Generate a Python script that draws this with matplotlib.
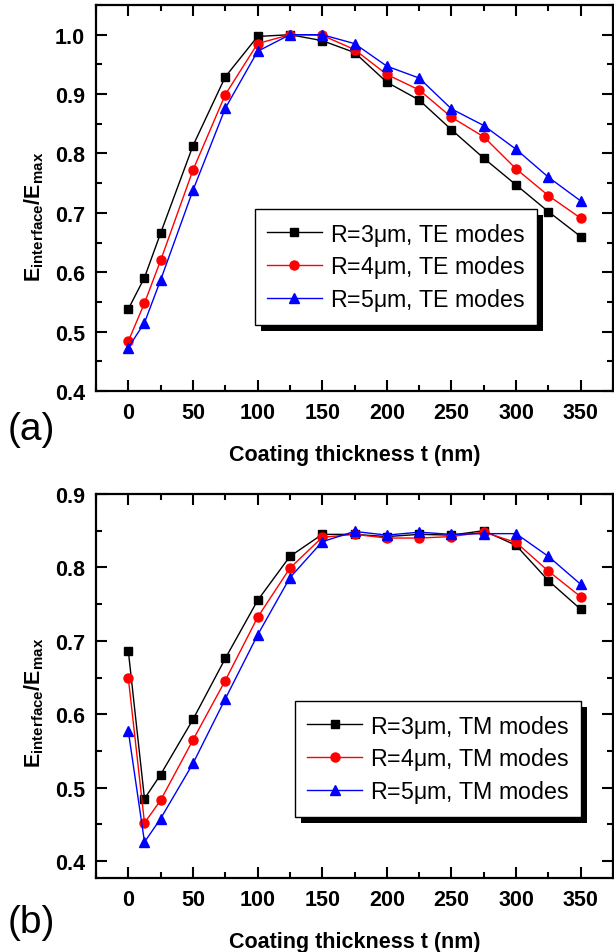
import numpy as np
import matplotlib
matplotlib.use('Agg')
import matplotlib.pyplot as plt
from matplotlib.patches import Rectangle
from matplotlib.ticker import MultipleLocator

plt.rcParams['font.family'] = ['Liberation Sans', 'DejaVu Sans']
plt.rcParams['mathtext.fontset'] = 'custom'
plt.rcParams['mathtext.rm'] = 'Liberation Sans'
plt.rcParams['mathtext.bf'] = 'Liberation Sans:bold'

# coating thickness (nm)
thickness = [0, 12.5, 25, 50, 75, 100, 125, 150, 175, 200, 225, 250, 275, 300, 325, 350]

# TE modes
te_r3 = [0.538, 0.591, 0.666, 0.813, 0.929, 0.997, 1.0, 0.990, 0.970, 0.920,
         0.890, 0.840, 0.792, 0.747, 0.702, 0.660]
te_r4 = [0.484, 0.548, 0.620, 0.772, 0.899, 0.985, 1.0, 0.999, 0.975, 0.933,
         0.907, 0.861, 0.828, 0.774, 0.729, 0.691]
te_r5 = [0.473, 0.515, 0.587, 0.738, 0.876, 0.972, 1.0, 1.0, 0.985, 0.947,
         0.927, 0.875, 0.847, 0.807, 0.760, 0.720]

# TM modes
tm_r3 = [0.686, 0.485, 0.518, 0.593, 0.676, 0.755, 0.815, 0.845, 0.845, 0.842,
         0.845, 0.844, 0.850, 0.830, 0.782, 0.743]
tm_r4 = [0.649, 0.452, 0.483, 0.565, 0.646, 0.732, 0.799, 0.841, 0.845, 0.840,
         0.840, 0.842, 0.848, 0.834, 0.795, 0.760]
tm_r5 = [0.577, 0.426, 0.458, 0.533, 0.621, 0.708, 0.786, 0.835, 0.849, 0.844,
         0.848, 0.845, 0.846, 0.846, 0.815, 0.777]

radii = ['3', '4', '5']
styles = [('k', 's', 6), ('#ff0000', 'o', 6.5), ('#0000ff', '^', 7)]

fig = plt.figure(figsize=(6.14, 9.53), dpi=100)
ax1 = fig.add_axes([0.1564, 0.5887, 0.842, 0.405])
ax2 = fig.add_axes([0.1564, 0.0776, 0.842, 0.403])


def setup(ax, ylim, yticks, ylab_y, xlab_y):
    ax.set_xlim(-25, 375)
    ax.set_ylim(*ylim)
    ax.set_yticks(yticks)
    ax.set_yticklabels(['%.1f' % v for v in yticks])
    ax.set_xticks(np.arange(0, 351, 50))
    ax.xaxis.set_minor_locator(MultipleLocator(25))
    ax.yaxis.set_minor_locator(MultipleLocator(0.05))
    ax.tick_params(which='both', direction='in', top=True, right=True, width=1.5)
    ax.tick_params(which='major', length=8, labelsize=15.5, pad=8)
    ax.tick_params(which='minor', length=4)
    for lab in ax.get_xticklabels() + ax.get_yticklabels():
        lab.set_fontweight('bold')
    for sp in ax.spines.values():
        sp.set_linewidth(1.6)
    ax.set_xlabel('Coating thickness t (nm)', fontsize=15.5, fontweight='bold')
    ax.xaxis.set_label_coords(0.5, xlab_y)
    ax.set_ylabel(r'$\mathbf{E}_{\mathbf{interface}}\mathbf{/E}_{\mathbf{max}}$', fontsize=15.5)
    ax.yaxis.set_label_coords(-0.097, ylab_y)


def shadow(leg, ax):
    fig.canvas.draw()
    bb = leg.get_frame().get_window_extent()
    rect = Rectangle((bb.x0 + 6, bb.y0 - 6), bb.width, bb.height, transform=None,
                     facecolor='k', edgecolor='none', zorder=leg.get_zorder() - 0.5)
    ax.add_artist(rect)


for series, mode, ax in [((te_r3, te_r4, te_r5), 'TE', ax1), ((tm_r3, tm_r4, tm_r5), 'TM', ax2)]:
    for r, vals, (c, m, ms) in zip(radii, series, styles):
        ax.plot(thickness, vals, color=c, marker=m, markersize=ms, linewidth=1.0,
                label=r'R=%s$\mathregular{\mu}$m, %s modes' % (r, mode), clip_on=False)

setup(ax1, (0.4, 1.05), np.arange(0.4, 1.01, 0.1), 0.453, -0.137)
setup(ax2, (0.377, 0.9), np.arange(0.4, 0.91, 0.1), 0.458, -0.138)

leg_kw = dict(loc='upper left', borderaxespad=0, fontsize=16.7, fancybox=False,
              framealpha=1, edgecolor='k', handlelength=2.4, handletextpad=0.35,
              labelspacing=0.25, borderpad=0.5)
leg1 = ax1.legend(bbox_to_anchor=(0.3075, 0.4715), **leg_kw)
leg2 = ax2.legend(bbox_to_anchor=(0.385, 0.461), **leg_kw)
for leg in (leg1, leg2):
    leg.get_frame().set_linewidth(1.0)
    leg.set_zorder(5)
shadow(leg1, ax1)
shadow(leg2, ax2)

fig.text(31 / 614, 1 - 430 / 953, '(a)', fontsize=28, ha='center', va='center')
fig.text(31 / 614, 1 - 923 / 953, '(b)', fontsize=28, ha='center', va='center')

fig.savefig('out.png', dpi=100)
